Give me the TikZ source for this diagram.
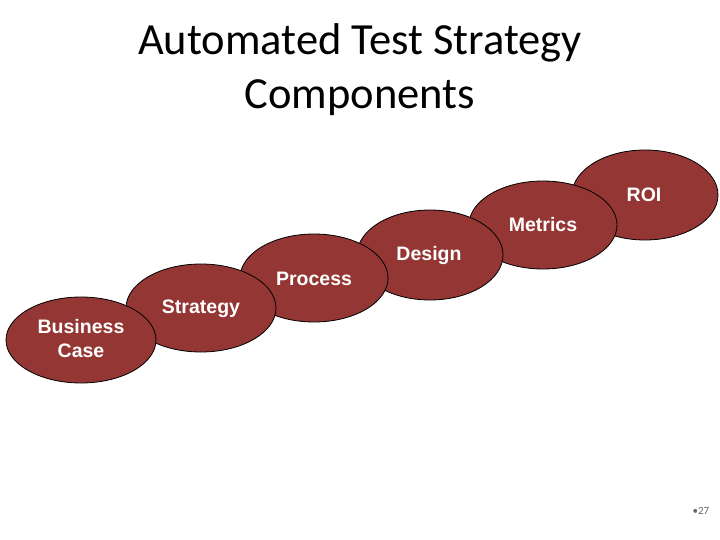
\documentclass[tikz,border=0pt]{standalone}
\usepackage{fontspec}
\setmainfont{Liberation Sans}
\newfontfamily\titlefont{Carlito}
\definecolor{oval}{HTML}{943634}
\begin{document}
\begin{tikzpicture}[x=1pt,y=-1pt,
  stage/.style={draw=black, line width=0.8pt, fill=oval},
  stagetext/.style={text=white, font=\fontsize{19.5}{24}\selectfont\bfseries, align=center, inner sep=0pt}]
\useasboundingbox (0,0) rectangle (720,540);
\node[font=\titlefont\fontsize{44.5}{54}\selectfont, align=center, text=black] (title) at (360,70) {Automated Test Strategy\\Components};
\path[stage] (645,195) ellipse (73 and 45);
\path[stage] (543,225) ellipse (74 and 44);
\path[stage] (430,255) ellipse (73 and 45);
\path[stage] (314,278) ellipse (74 and 44);
\path[stage] (201,308) ellipse (75 and 44);
\path[stage] (81,340) ellipse (75 and 43);
\node[stagetext] (roi) at (644,195) {ROI};
\node[stagetext] (metrics) at (543,225) {Metrics};
\node[stagetext] (design) at (429,256) {Design};
\node[stagetext] (process) at (314,279) {Process};
\node[stagetext] (strategy) at (201,309) {Strategy};
\node[stagetext] (business) at (81,339) {Business\\Case};
\node[font=\titlefont\fontsize{11}{13}\selectfont, text=black!60, inner sep=0pt] (page) at (701,511) {•27};
\end{tikzpicture}
\end{document}
